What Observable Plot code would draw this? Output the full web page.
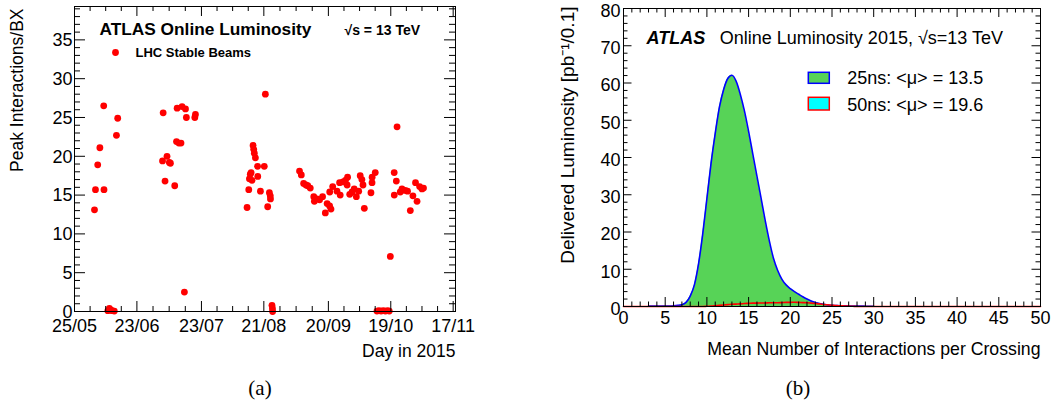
<!DOCTYPE html>
<html><head><meta charset="utf-8">
<script src="https://cdn.jsdelivr.net/npm/d3@7"></script>
<script src="https://cdn.jsdelivr.net/npm/@observablehq/plot@0.6"></script>
<style>
body{margin:0;background:#fff;}
#wrap{position:relative;width:1055px;height:408px;overflow:hidden;background:#fff;}
.panel{position:absolute;top:0;}
.cap{position:absolute;top:378px;font-family:"Liberation Serif","DejaVu Serif",serif;font-size:21px;line-height:21px;transform:translateX(-50%);color:#000;}
</style></head><body><div id="wrap"></div>
<script>
// ---------- Panel (a): peak interactions per bunch crossing ----------
const peakDates = [
  "2015-06-03T07","2015-06-03T18","2015-06-04T19","2015-06-05T19","2015-06-07T14","2015-06-07T17",
  "2015-06-09T12","2015-06-10T05","2015-06-10T19","2015-06-11T12","2015-06-12T12","2015-06-13T12","2015-06-14T02",
  "2015-07-04T22","2015-07-05T05","2015-07-06T02","2015-07-07T00","2015-07-08T02","2015-07-08T14","2015-07-10T14",
  "2015-07-11T10","2015-07-11T17","2015-07-12T12","2015-07-13T12","2015-07-14T00","2015-07-15T02","2015-07-15T14",
  "2015-07-16T00","2015-07-19T22","2015-07-20T05",
  "2015-08-13T05","2015-08-14T00","2015-08-14T07","2015-08-14T17","2015-08-15T02","2015-08-15T12","2015-08-16T00",
  "2015-08-16T07","2015-08-16T14","2015-08-17T02","2015-08-18T02","2015-08-18T04","2015-08-19T10","2015-08-21T05",
  "2015-08-21T17","2015-08-22T19","2015-08-23T14","2015-08-24T00","2015-08-24T02","2015-08-24T19","2015-08-25T00","2015-08-25T02",
  "2015-09-06T14","2015-09-07T10","2015-09-08T12","2015-09-09T14","2015-09-10T10","2015-09-11T14","2015-09-13T05",
  "2015-09-13T12","2015-09-14T17","2015-09-15T22","2015-09-17T07","2015-09-18T14","2015-09-19T10","2015-09-20T14",
  "2015-09-20T15","2015-09-21T05","2015-09-22T00","2015-09-24T00","2015-09-25T05","2015-09-25T12","2015-09-26T19",
  "2015-09-27T22","2015-09-28T17","2015-09-28T22","2015-09-29T22","2015-10-01T00","2015-10-02T00","2015-10-03T00",
  "2015-10-04T02","2015-10-04T19","2015-10-05T14","2015-10-06T02","2015-10-06T17","2015-10-09T19","2015-10-10T07",
  "2015-10-10T08","2015-10-11T19",
  "2015-10-12T14","2015-10-13T12","2015-10-14T12","2015-10-15T12","2015-10-16T12","2015-10-17T12","2015-10-18T07",
  "2015-10-18T19","2015-10-20T14","2015-10-20T15","2015-10-21T14","2015-10-21T22","2015-10-23T10","2015-10-24T05",
  "2015-10-25T17","2015-10-26T19","2015-10-28T02","2015-10-29T07","2015-10-30T12","2015-10-31T05","2015-11-01T10",
  "2015-11-02T12","2015-11-03T05"
];
const peakMu = [
  13.1,15.7,18.9,21.1,26.5,15.7,
  0.1,0.4,0.2,0.1,0.05,22.7,24.9,
  19.4,25.6,16.8,20.0,19.2,19.1,16.2,
  21.9,26.2,21.7,21.7,26.4,2.5,26.1,
  25.0,25.0,25.4,
  13.4,15.7,17.1,17.7,17.9,16.9,21.4,
  20.9,20.4,19.8,18.7,17.4,15.5,18.7,
  28.0,13.5,15.3,14.9,14.5,0.8,0.4,0.0,
  18.1,17.6,16.5,16.3,16.2,15.9,14.8,
  14.2,14.5,14.4,14.8,12.7,13.9,13.6,
  15.4,13.2,16.1,15.5,16.6,15.0,16.7,
  16.9,16.3,17.3,15.1,15.4,15.8,14.8,
  15.5,17.5,17.0,16.3,13.3,15.3,16.6,
  17.3,17.9,
  0.05,0.1,0.05,0.1,0.05,0.1,0.05,
  7.1,17.9,15.0,16.8,23.8,15.4,15.8,
  15.6,15.5,13.0,14.9,16.6,14.2,16.1,
  15.8,15.9
];
const dateTickLabels = ["2015-05-25","2015-06-23","2015-07-23","2015-08-21","2015-09-20","2015-10-19","2015-11-17"];
const muTicksA = [0,5,10,15,20,25,30,35];

// ---------- Panel (b): delivered luminosity vs mean interactions ----------
const mu25 = [3,3.5,4,4.5,5,5.5,6,6.5,7,7.5,8,8.5,9,9.5,10,10.5,11,11.5,12,12.5,13,13.5,14,14.5,15,15.5,
  16,16.5,17,17.5,18,18.5,19,19.5,20,20.5,21,21.5,22,22.5,23,23.5,24,24.5,25,25.5,26,26.5,27,27.5,28,28.5,29,29.5,30];
const lumi25 = [0.1,0.1,0.1,0.1,0.15,0.15,0.2,0.3,0.5,1.1,2.8,5.8,11.5,19.5,29,38.5,46.5,53.5,58.2,61.2,62.1,60.5,
  57,52.5,47,41,35,29,23,17.5,12.8,9.6,7.3,5.8,4.8,4.0,3.3,2.6,2.0,1.5,1.1,0.8,0.6,0.4,0.3,0.25,0.2,0.18,0.15,
  0.12,0.1,0.1,0.08,0.06,0.05];
const mu50 = [0,9.5,10,10.5,11,11.5,12,12.5,13,13.5,14,14.5,15,15.5,16,16.5,17,17.5,18,18.5,19,19.5,20,20.5,21,
  21.5,22,22.5,23,23.5,24,24.5,25,25.5,26,26.5,27,27.5,28,50];
const lumi50 = [0,0,0.05,0.1,0.2,0.3,0.4,0.5,0.6,0.65,0.7,0.8,0.85,0.9,0.9,0.95,0.95,1.0,1.0,1.0,1.05,1.1,1.1,1.15,
  1.1,1.05,1.0,0.9,0.8,0.7,0.55,0.45,0.35,0.25,0.2,0.15,0.1,0.05,0,0];
const xTicksB = [0,5,10,15,20,25,30,35,40,45,50];
const yTicksB = [0,10,20,30,40,50,60,70,80];

// ---------- helpers ----------
const FONT = '"Liberation Sans", Arial, Helvetica, sans-serif';
function frameTicks(xMajor, xMinor, yMajor, yMinor, innerW, innerH, lx, sx, ly, sy) {
  const st = {stroke: "#000", strokeWidth: 1};
  return [
    Plot.ruleX(xMajor, {...st, insetTop: innerH - lx}),
    Plot.ruleX(xMajor, {...st, insetBottom: innerH - lx}),
    Plot.ruleX(xMinor, {...st, insetTop: innerH - sx}),
    Plot.ruleX(xMinor, {...st, insetBottom: innerH - sx}),
    Plot.ruleY(yMajor, {...st, insetRight: innerW - ly}),
    Plot.ruleY(yMajor, {...st, insetLeft: innerW - ly}),
    Plot.ruleY(yMinor, {...st, insetRight: innerW - sy}),
    Plot.ruleY(yMinor, {...st, insetLeft: innerW - sy})
  ];
}

const wrap = document.getElementById("wrap");

// Panel (a)
{
  const parse = d3.utcParse("%Y-%m-%dT%H");
  const pts = peakDates.map((d, i) => ({date: parse(d), mu: peakMu[i]}));
  const majors = dateTickLabels.map(d3.utcParse("%Y-%m-%d"));
  const minors = [];
  for (let i = 0; i < majors.length - 1; i++)
    for (let k = 1; k < 4; k++) minors.push(new Date(+majors[i] + k * (majors[i + 1] - majors[i]) / 4));
  const yMinor = d3.range(0, 40, 1).filter(v => v % 5 !== 0);
  const W = 480, H = 365, mL = 74, mR = 25, mT = 6, mB = 54;
  const innerW = W - mL - mR, innerH = H - mT - mB;
  const chart = Plot.plot({
    width: W, height: H, marginLeft: mL, marginRight: mR, marginTop: mT, marginBottom: mB,
    style: {fontFamily: FONT, fontSize: "18px", background: "white", color: "black", overflow: "visible"},
    x: {type: "utc", domain: [new Date(Date.UTC(2015, 4, 25)), new Date(Date.UTC(2015, 10, 18, 2))]},
    y: {domain: [0, 39.3]},
    marks: [
      Plot.dot(pts, {x: "date", y: "mu", r: 3.4, fill: "#ff0000", stroke: "none"}),
      Plot.frame({stroke: "#000", strokeWidth: 1}),
      ...frameTicks(majors, minors, muTicksA, yMinor, innerW, innerH, 10, 5, 11, 6),
      Plot.axisX({ticks: majors, tickSize: 0, tickPadding: 8, tickFormat: d3.utcFormat("%d/%m"), label: null}),
      Plot.axisY({ticks: muTicksA, tickSize: 0, tickPadding: 2, dy: 0.5, label: null}),
      Plot.text(["Peak Interactions/BX"], {frameAnchor: "top-left", dx: -52, dy: 2, rotate: -90, textAnchor: "end", lineAnchor: "bottom", fontSize: 17.5}),
      Plot.text(["Day in 2015"], {frameAnchor: "bottom-right", dx: 0, dy: 45, textAnchor: "end", lineAnchor: "bottom", fontSize: 17.5}),
      Plot.text(["ATLAS Online Luminosity"], {frameAnchor: "top-left", dx: 25, dy: 28, textAnchor: "start", lineAnchor: "bottom", fontSize: 17.3, fontWeight: "bold"}),
      Plot.text(["√s = 13 TeV"], {frameAnchor: "top-left", dx: 270, dy: 28, textAnchor: "start", lineAnchor: "bottom", fontSize: 14, fontWeight: "bold"}),
      Plot.dot([0], {frameAnchor: "top-left", dx: 41, dy: 46, r: 3.4, fill: "#ff0000", stroke: "none"}),
      Plot.text(["LHC Stable Beams"], {frameAnchor: "top-left", dx: 61, dy: 50.5, textAnchor: "start", lineAnchor: "bottom", fontSize: 13, fontWeight: "bold"})
    ]
  });
  chart.classList.add("panel");
  chart.style.left = "0px";
  wrap.appendChild(chart);
}

// Panel (b)
{
  const h25 = mu25.map((m, i) => ({mu: m, v: lumi25[i]}));
  const h50 = mu50.map((m, i) => ({mu: m, v: lumi50[i]}));
  const xMinor = d3.range(0, 51, 1).filter(v => v % 5 !== 0);
  const yMinor = d3.range(0, 81, 2).filter(v => v % 10 !== 0);
  const W = 528, H = 365, mL = 96, mR = 15, mT = 8, mB = 59;
  const innerW = W - mL - mR, innerH = H - mT - mB;
  const chart = Plot.plot({
    width: W, height: H, marginLeft: mL, marginRight: mR, marginTop: mT, marginBottom: mB,
    style: {fontFamily: FONT, fontSize: "18px", background: "white", color: "black", overflow: "visible"},
    x: {domain: [0, 50]},
    y: {domain: [0, 80]},
    marks: [
      Plot.areaY(h25, {x: "mu", y: "v", fill: "#57d357", curve: "monotone-x"}),
      Plot.lineY(h25, {x: "mu", y: "v", stroke: "#0000ff", strokeWidth: 1.6, curve: "monotone-x"}),
      Plot.lineY(h50, {x: "mu", y: "v", stroke: "#ff0000", strokeWidth: 1.6, curve: "monotone-x"}),
      Plot.frame({stroke: "#000", strokeWidth: 1}),
      ...frameTicks(xTicksB, xMinor, yTicksB, yMinor, innerW, innerH, 9, 4.5, 8.5, 4.5),
      Plot.axisX({ticks: xTicksB, tickSize: 0, tickPadding: 5, label: null}),
      Plot.axisY({ticks: yTicksB, tickSize: 0, tickPadding: 3, dy: 2.5, label: null}),
      Plot.text(["Delivered Luminosity [pb⁻¹/0.1]"], {frameAnchor: "top-left", dx: -50, dy: -2, rotate: -90, textAnchor: "end", lineAnchor: "bottom", fontSize: 19}),
      Plot.text(["Mean Number of Interactions per Crossing"], {frameAnchor: "bottom-right", dx: 0, dy: 48, textAnchor: "end", lineAnchor: "bottom", fontSize: 17.7}),
      Plot.text(["ATLAS"], {frameAnchor: "top-left", dx: 23, dy: 35.3, textAnchor: "start", lineAnchor: "bottom", fontSize: 18, fontWeight: "bold", fontStyle: "italic"}),
      Plot.text(["Online Luminosity 2015, √s=13 TeV"], {frameAnchor: "top-left", dx: 96.3, dy: 35.3, textAnchor: "start", lineAnchor: "bottom", fontSize: 18}),
      Plot.rect([0], {insetLeft: 185.3, insetRight: 210.7, insetTop: 64.3, insetBottom: 222.7, fill: "#57d357", stroke: "#0000ff", strokeWidth: 1.5}),
      Plot.rect([0], {insetLeft: 185.3, insetRight: 210.7, insetTop: 89.3, insetBottom: 196, fill: "#00ffff", stroke: "#ff0000", strokeWidth: 1.5}),
      Plot.text(["25ns: <μ> = 13.5"], {frameAnchor: "top-left", dx: 223.7, dy: 75.3, textAnchor: "start", lineAnchor: "bottom", fontSize: 18}),
      Plot.text(["50ns: <μ> = 19.6"], {frameAnchor: "top-left", dx: 223.7, dy: 102, textAnchor: "start", lineAnchor: "bottom", fontSize: 18})
    ]
  });
  chart.classList.add("panel");
  chart.style.left = "527px";
  wrap.appendChild(chart);
}

const capA = document.createElement("div");
capA.className = "cap"; capA.style.left = "260px"; capA.textContent = "(a)";
wrap.appendChild(capA);
const capB = document.createElement("div");
capB.className = "cap"; capB.style.left = "798px"; capB.textContent = "(b)";
wrap.appendChild(capB);
</script></body></html>
